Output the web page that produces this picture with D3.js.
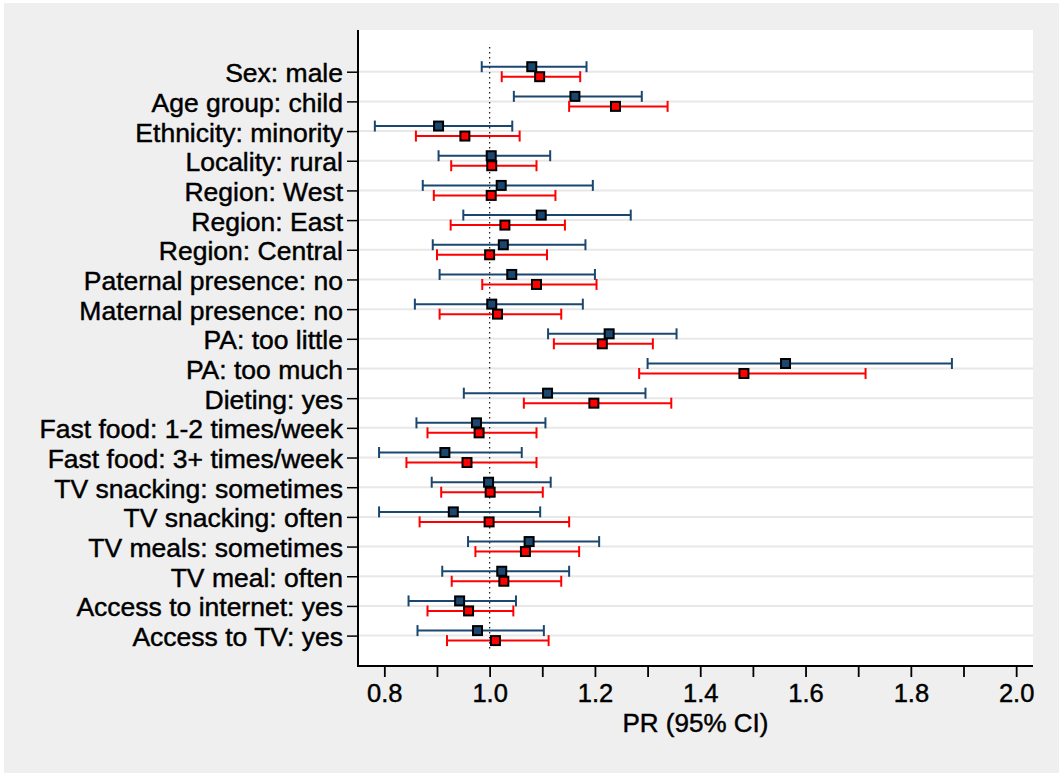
<!DOCTYPE html>
<html>
<head>
<meta charset="utf-8">
<script src="https://cdn.jsdelivr.net/npm/d3@7"></script>
<style>
  body { margin: 0; background: #ffffff; }
  text { font-family: "Liberation Sans", Arial, sans-serif; fill: #000; stroke: #000; stroke-width: 0.45px; }
</style>
</head>
<body>
<div id="chart"></div>
<script>
var width = 1059;
var height = 773;

// row labels, top to bottom
var labels = ["Sex: male", "Age group: child", "Ethnicity: minority", "Locality: rural",
  "Region: West", "Region: East", "Region: Central", "Paternal presence: no",
  "Maternal presence: no", "PA: too little", "PA: too much", "Dieting: yes",
  "Fast food: 1-2 times/week", "Fast food: 3+ times/week", "TV snacking: sometimes",
  "TV snacking: often", "TV meals: sometimes", "TV meal: often",
  "Access to internet: yes", "Access to TV: yes"];

// first model (navy)
var prA = [1.080, 1.162, 0.903, 1.003, 1.022, 1.098, 1.026, 1.042, 1.004, 1.227,
  1.562, 1.110, 0.975, 0.915, 0.998, 0.931, 1.075, 1.023, 0.943, 0.977];
var loA = [0.985, 1.046, 0.782, 0.903, 0.873, 0.950, 0.892, 0.905, 0.858, 1.111,
  1.300, 0.951, 0.861, 0.790, 0.890, 0.790, 0.959, 0.910, 0.846, 0.863];
var hiA = [1.184, 1.289, 1.043, 1.115, 1.196, 1.268, 1.182, 1.200, 1.177, 1.355,
  1.878, 1.296, 1.106, 1.061, 1.116, 1.096, 1.208, 1.151, 1.050, 1.103];

// second model (red)
var prB = [1.095, 1.239, 0.953, 1.004, 1.003, 1.029, 1.000, 1.089, 1.015, 1.214,
  1.483, 1.198, 0.980, 0.957, 1.001, 0.999, 1.068, 1.027, 0.960, 1.011];
var loB = [1.023, 1.151, 0.860, 0.927, 0.894, 0.926, 0.900, 0.986, 0.905, 1.122,
  1.284, 1.065, 0.882, 0.842, 0.908, 0.867, 0.973, 0.928, 0.882, 0.919];
var hiB = [1.172, 1.338, 1.057, 1.089, 1.125, 1.143, 1.109, 1.203, 1.136, 1.310,
  1.714, 1.345, 1.089, 1.089, 1.101, 1.151, 1.170, 1.136, 1.045, 1.112];

var xTicks = [0.8, 0.9, 1.0, 1.1, 1.2, 1.3, 1.4, 1.5, 1.6, 1.7, 1.8, 1.9, 2.0];

var series = [
  {pr: prA, lo: loA, hi: hiA, color: "#1a476f", off: -5},
  {pr: prB, lo: loB, hi: hiB, color: "#ff0000", off: 5}
];

var plot = {left: 358, right: 1033, top: 30, bottom: 666};

var xScale = d3.scaleLinear()
    .domain([0.75, 2.032])
    .range([plot.left, plot.right]);

var yScale = d3.scalePoint()
    .domain(labels)
    .range([71.7, 635.6]);

var svg = d3.select("#chart")
    .append("svg")
    .attr("width", width)
    .attr("height", height);

// grey graph region
svg.append("rect")
    .attr("x", 4).attr("y", 3)
    .attr("width", width - 4).attr("height", height - 3)
    .attr("fill", "#efefef");

// white plot region
svg.append("rect")
    .attr("x", plot.left).attr("y", plot.top)
    .attr("width", plot.right - plot.left)
    .attr("height", plot.bottom - plot.top)
    .attr("fill", "#ffffff");

// horizontal grid lines
svg.append("g").selectAll("line")
    .data(labels)
    .enter()
    .append("line")
    .attr("x1", plot.left).attr("x2", plot.right)
    .attr("y1", function(d) { return yScale(d); })
    .attr("y2", function(d) { return yScale(d); })
    .attr("stroke", "#e8e8e8")
    .attr("stroke-width", 2);

// reference line at 1
svg.append("line")
    .attr("x1", xScale(1)).attr("x2", xScale(1))
    .attr("y1", 47).attr("y2", 650)
    .attr("stroke", "#222")
    .attr("stroke-width", 1.3)
    .attr("stroke-dasharray", "1.5,3.5");

// axes
var xAxis = d3.axisBottom(xScale)
    .tickValues(xTicks)
    .tickSize(11)
    .tickPadding(7)
    .tickFormat(function(d) {
      var k = Math.round(d * 10);
      return k % 2 == 0 ? d3.format(".1f")(d) : "";
    });

var gx = svg.append("g")
    .attr("transform", "translate(0," + plot.bottom + ")")
    .call(xAxis);
gx.select(".domain").remove();
gx.selectAll("line").attr("stroke", "#000").attr("stroke-width", 1.8);
gx.selectAll("text")
    .style("font-family", "'Liberation Sans', Arial, sans-serif")
    .style("font-size", "25.5px");

var yAxis = d3.axisLeft(yScale)
    .tickSize(11)
    .tickPadding(4);

var gy = svg.append("g")
    .attr("transform", "translate(" + plot.left + ",0)")
    .call(yAxis);
gy.select(".domain").remove();
gy.selectAll("line").attr("stroke", "#000").attr("stroke-width", 1.5);
gy.selectAll("text")
    .attr("dy", "0.38em")
    .style("font-family", "'Liberation Sans', Arial, sans-serif")
    .style("font-size", "26.5px");

// axis lines
svg.append("line")
    .attr("x1", plot.left).attr("x2", plot.right)
    .attr("y1", plot.bottom).attr("y2", plot.bottom)
    .attr("stroke", "#000").attr("stroke-width", 2);
svg.append("line")
    .attr("x1", plot.left).attr("x2", plot.left)
    .attr("y1", plot.top).attr("y2", plot.bottom + 1)
    .attr("stroke", "#000").attr("stroke-width", 2);

// axis title
svg.append("text")
    .attr("x", (plot.left + plot.right) / 2)
    .attr("y", 732)
    .attr("text-anchor", "middle")
    .style("font-size", "26px")
    .text("PR (95% CI)");

// CI bars and markers
series.forEach(function(s) {
  var g = svg.append("g");
  var rows = labels.map(function(l, i) {
    return {label: l, pr: s.pr[i], lo: s.lo[i], hi: s.hi[i]};
  });

  g.selectAll(".ci")
    .data(rows)
    .enter()
    .append("line")
    .attr("x1", function(d) { return xScale(d.lo); })
    .attr("x2", function(d) { return xScale(d.hi); })
    .attr("y1", function(d) { return yScale(d.label) + s.off; })
    .attr("y2", function(d) { return yScale(d.label) + s.off; })
    .attr("stroke", s.color)
    .attr("stroke-width", 2);

  ["lo", "hi"].forEach(function(k) {
    g.selectAll(".cap" + k)
      .data(rows)
      .enter()
      .append("line")
      .attr("x1", function(d) { return xScale(d[k]); })
      .attr("x2", function(d) { return xScale(d[k]); })
      .attr("y1", function(d) { return yScale(d.label) + s.off - 5.5; })
      .attr("y2", function(d) { return yScale(d.label) + s.off + 5.5; })
      .attr("stroke", s.color)
      .attr("stroke-width", 2);
  });

  g.selectAll("rect")
    .data(rows)
    .enter()
    .append("rect")
    .attr("x", function(d) { return xScale(d.pr) - 4.5; })
    .attr("y", function(d) { return yScale(d.label) + s.off - 4.5; })
    .attr("width", 9)
    .attr("height", 9)
    .attr("fill", s.color)
    .attr("stroke", "#000")
    .attr("stroke-width", 2);
});
</script>
</body>
</html>
